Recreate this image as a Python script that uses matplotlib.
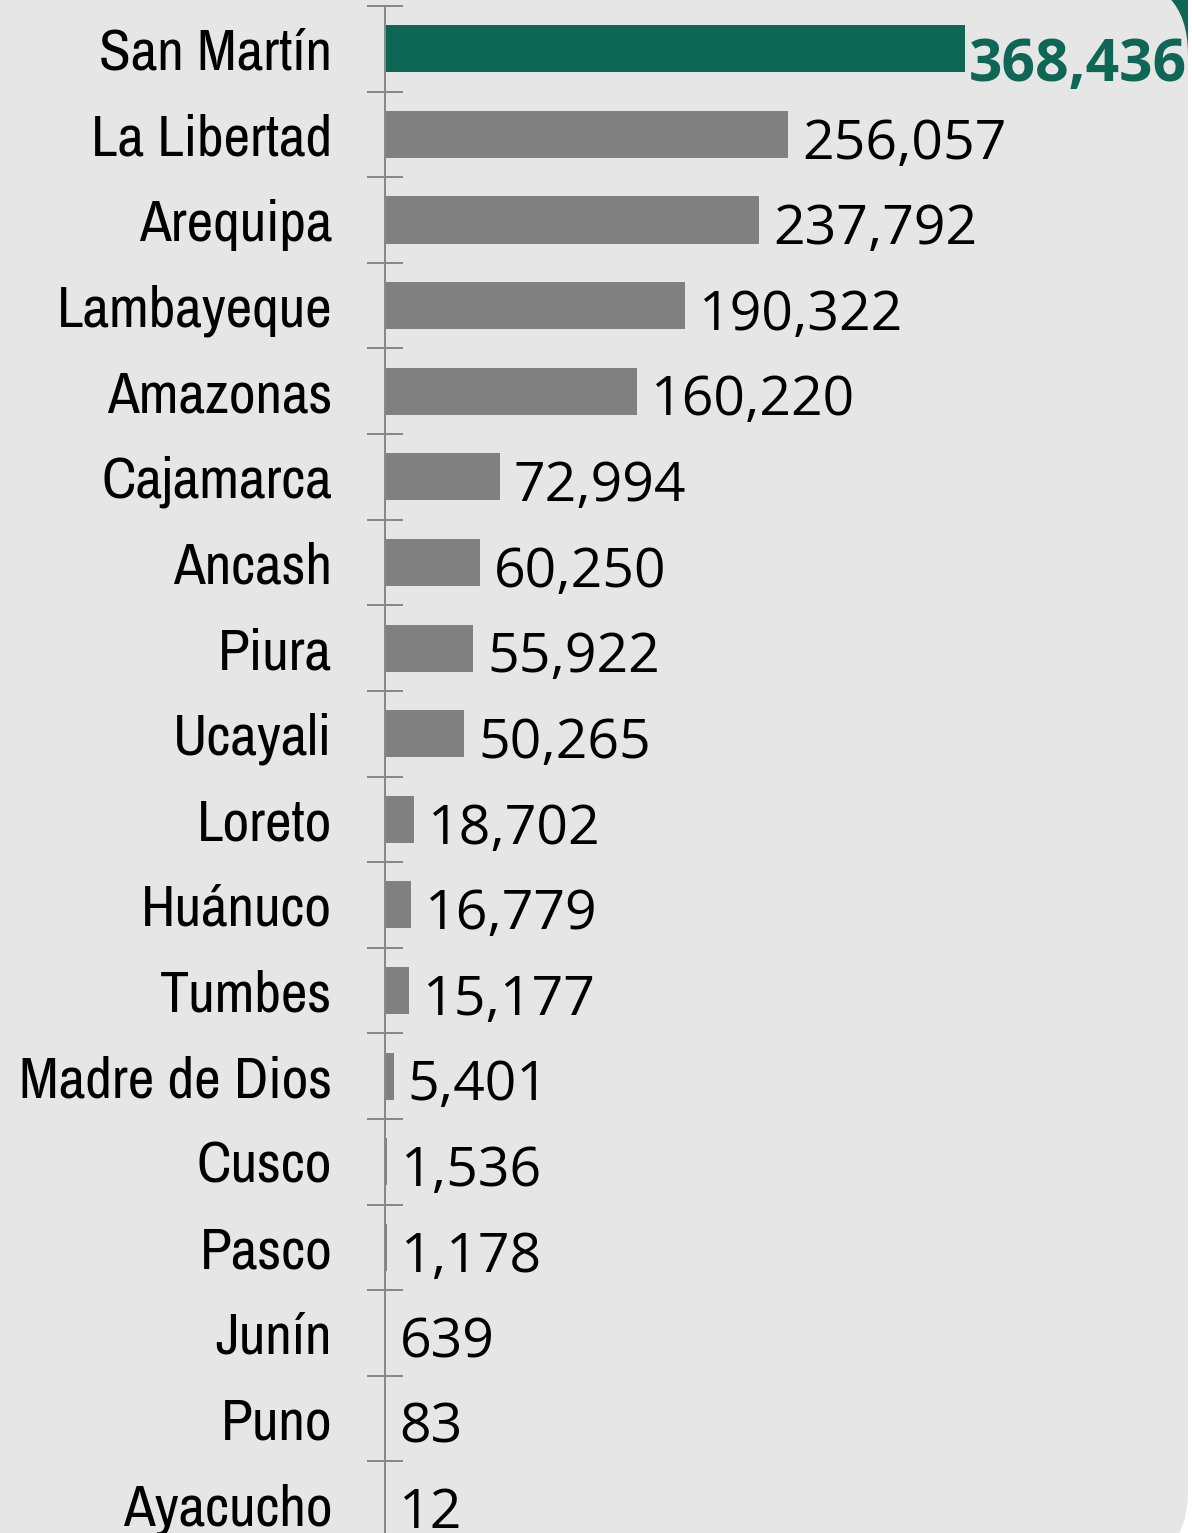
import numpy as np
import matplotlib
matplotlib.use('Agg')
import matplotlib.pyplot as plt
from matplotlib import font_manager
from matplotlib.patches import FancyBboxPatch, Rectangle
from matplotlib.transforms import IdentityTransform

regions = ['San Martín', 'La Libertad', 'Arequipa', 'Lambayeque', 'Amazonas',
           'Cajamarca', 'Ancash', 'Piura', 'Ucayali', 'Loreto', 'Huánuco',
           'Tumbes', 'Madre de Dios', 'Cusco', 'Pasco', 'Junín', 'Puno',
           'Ayacucho']
values = [368436, 256057, 237792, 190322, 160220, 72994, 60250, 55922,
          50265, 18702, 16779, 15177, 5401, 1536, 1178, 639, 83, 12]

green = '#0e6655'
grey = '#808080'
bg = '#e6e6e6'

# pick a narrow font for the region names if one is around
cands = ['Arial Narrow', 'Liberation Sans Narrow', 'Archivo Narrow', 'Pragati Narrow',
         'PT Sans Narrow', 'Roboto Condensed', 'Open Sans Condensed',
         'Fira Sans Condensed', 'IBM Plex Sans Condensed', 'Encode Sans Condensed']
avail = {f.name for f in font_manager.fontManager.ttflist}
narrow = next((c for c in cands if c in avail), 'DejaVu Sans')

W, H = 1192, 1533
fig = plt.figure(figsize=(W / 100, H / 100), dpi=100)
fig.patch.set_facecolor('white')
renderer = fig.canvas.get_renderer()


def fit_size(s, family, target_px, base=40, **kw):
    t = fig.text(0, 0, s, fontsize=base, family=family, **kw)
    w = t.get_window_extent(renderer).width
    t.remove()
    return base * target_px / w


name_size = fit_size('Madre de Dios', narrow, 313)
val_size = fit_size('256,057', 'Open Sans', 204)
top_size = fit_size('368,436', 'Open Sans', 218, fontweight='bold')

# background card with rounded corners and green corner accent
fig.patches.append(Rectangle((1100, H - 60), 88, 60, transform=IdentityTransform(),
                             facecolor=green, edgecolor='none', zorder=0))
fig.patches.append(FancyBboxPatch((-100, -34), 1288, H + 22 + 34,
                                  boxstyle='round,pad=0,rounding_size=77',
                                  transform=IdentityTransform(),
                                  facecolor=bg, edgecolor='none', zorder=1))

ax = fig.add_axes([385 / W, -14 / H, 803 / W, 1541 / H])
ax.patch.set_alpha(0)
ax.set_zorder(2)

y = np.arange(len(regions))
colors = [green] + [grey] * (len(regions) - 1)
ax.barh(y, values, height=0.55, color=colors)

ax.set_xlim(0, 368436 * 803 / 580)
ax.set_ylim(len(regions) - 0.5, -0.5)

for i, v in enumerate(values):
    if i == 0:
        ax.annotate(f'{v:,}', (v, i), xytext=(3, -12), textcoords='offset points',
                    va='center', ha='left', fontsize=top_size, fontweight='bold',
                    color=green, family='Open Sans', annotation_clip=False)
    else:
        ax.annotate(f'{v:,}', (v, i), xytext=(10, -7), textcoords='offset points',
                    va='center', ha='left', fontsize=val_size, color='black',
                    family='Open Sans')

ax.set_yticks(np.arange(-0.5, len(regions)))
ax.set_yticklabels([])
ax.set_yticks(y, minor=True)
ax.set_yticklabels(regions, minor=True, fontsize=name_size,
                   family=[narrow, 'DejaVu Sans'])
for lab in ax.get_yticklabels(minor=True):
    lab.set_y(lab.get_position()[1])
ax.tick_params(axis='y', which='major', direction='inout', length=26,
               width=1.44, color='#888888')
ax.tick_params(axis='y', which='minor', length=0, pad=38)
ax.set_xticks([])

for s in ['top', 'right', 'bottom']:
    ax.spines[s].set_visible(False)
ax.spines['left'].set_color('#888888')
ax.spines['left'].set_linewidth(1.44)

fig.savefig('out.png', dpi=100, facecolor=fig.get_facecolor())
